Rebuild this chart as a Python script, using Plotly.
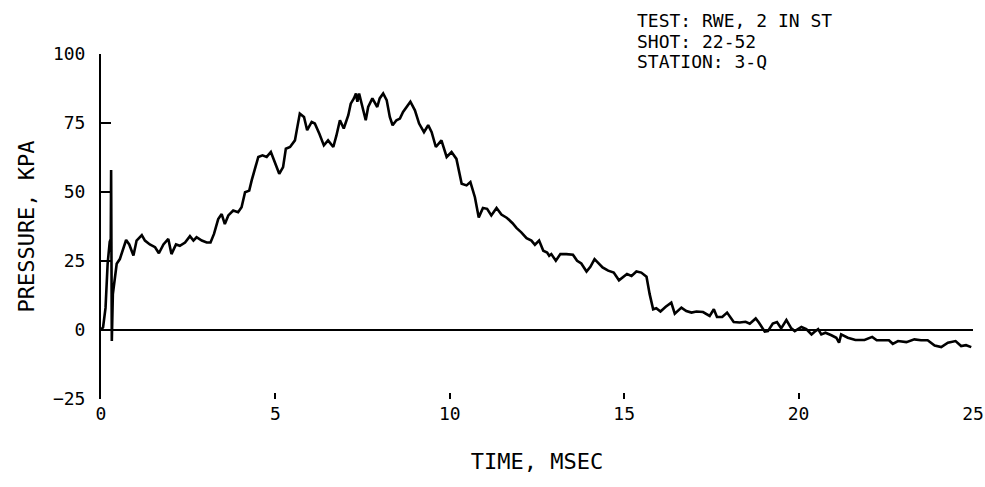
import plotly.graph_objects as go

# pressure record (time in msec, pressure in kPa)
time_ms = [
    0.00, 0.06, 0.13, 0.19, 0.25, 0.28, 0.29, 0.31, 0.34, 0.45, 0.54, 0.64, 0.72,
    0.81, 0.93, 1.02, 1.17, 1.26, 1.40, 1.55, 1.66, 1.79, 1.93, 2.02, 2.15, 2.26,
    2.41, 2.55, 2.65, 2.74, 2.89, 3.03, 3.14, 3.24, 3.36, 3.46, 3.55, 3.65, 3.79,
    3.93, 4.03, 4.13, 4.25, 4.32, 4.41, 4.51, 4.63, 4.75, 4.87, 4.99, 5.11, 5.22,
    5.30, 5.42, 5.56, 5.63, 5.70, 5.82, 5.91, 6.04, 6.13, 6.26, 6.39, 6.51, 6.66,
    6.75, 6.85, 6.96, 7.09, 7.16, 7.25, 7.31, 7.35, 7.40, 7.47, 7.59, 7.66, 7.78,
    7.92, 7.99, 8.09, 8.19, 8.28, 8.36, 8.47, 8.57, 8.66, 8.76, 8.87, 9.00, 9.12,
    9.26, 9.38, 9.48, 9.60, 9.76, 9.91, 10.05, 10.19, 10.34, 10.48, 10.59, 10.72,
    10.83, 10.95, 11.07, 11.19, 11.34, 11.48, 11.64, 11.80, 11.91, 12.05, 12.20,
    12.34, 12.44, 12.56, 12.68, 12.79, 12.85, 12.91, 13.04, 13.17, 13.34, 13.53,
    13.65, 13.77, 13.92, 14.03, 14.15, 14.25, 14.38, 14.54, 14.70, 14.85, 14.97,
    15.08, 15.21, 15.35, 15.49, 15.64, 15.73, 15.83, 15.92, 16.04, 16.19, 16.35,
    16.45, 16.64, 16.78, 16.93, 17.07, 17.26, 17.45, 17.57, 17.66, 17.81, 17.95,
    18.14, 18.31, 18.48, 18.60, 18.77, 18.86, 19.03, 19.12, 19.26, 19.38, 19.50,
    19.65, 19.79, 19.89, 20.08, 20.22, 20.37, 20.46, 20.56, 20.65, 20.77, 20.94,
    21.08, 21.16, 21.22, 21.41, 21.63, 21.89, 22.11, 22.24, 22.41, 22.59, 22.70,
    22.85, 23.09, 23.32, 23.51, 23.70, 23.90, 24.09, 24.28, 24.50, 24.66, 24.80,
    24.95,
]
pressure_kpa = [
    0.0, 1.0, 8.0, 24.0, 32.0, 33.0, 58.0, -4.0, 13.0, 24.0, 25.7, 30.0, 32.6,
    31.0, 27.0, 32.4, 34.4, 32.4, 31.0, 30.0, 27.8, 31.0, 33.0, 27.5, 31.0, 30.5,
    31.7, 34.0, 32.4, 33.6, 32.4, 31.7, 31.7, 34.8, 40.2, 42.0, 38.4, 41.5, 43.3,
    42.7, 44.5, 49.9, 50.5, 54.2, 57.8, 62.7, 63.3, 62.7, 64.5, 60.2, 56.6, 59.0,
    65.7, 66.3, 68.7, 73.6, 78.4, 77.2, 72.4, 75.4, 74.8, 71.1, 66.9, 68.7, 66.3,
    70.5, 76.0, 73.0, 77.8, 82.0, 83.9, 85.7, 82.7, 85.7, 82.0, 76.0, 80.8, 83.9,
    80.8, 83.9, 85.7, 83.3, 77.2, 74.2, 76.0, 76.6, 79.0, 80.8, 82.7, 79.6, 74.8,
    71.7, 74.2, 71.7, 66.3, 68.7, 62.7, 64.5, 62.0, 53.0, 52.4, 53.6, 48.1,
    40.8, 44.2, 43.9, 41.5, 44.2, 41.8, 40.6, 38.7, 37.0, 35.4, 33.3,
    32.4, 30.9, 32.4, 28.7, 28.1, 26.9, 27.5, 25.1, 27.5, 27.5, 27.3,
    25.1, 24.1, 21.2, 22.9, 25.7, 24.5, 22.7, 21.5, 20.8, 18.0, 19.3,
    20.3, 19.6, 21.2, 20.8, 19.3, 13.0, 7.5, 7.9, 6.7, 8.4, 9.9,
    5.9, 8.1, 6.9, 6.3, 6.7, 6.5, 5.1, 7.5, 4.7, 4.7, 6.3,
    2.9, 2.7, 3.0, 2.3, 4.2, 2.7, -0.6, -0.4, 2.3, 2.9, 0.6,
    3.6, 0.6, -0.4, 1.1, 0.3, -1.6, -0.6, 0.3, -1.6, -1.0, -1.9,
    -2.8, -4.6, -1.6, -2.8, -3.6, -3.6, -2.5, -3.7, -3.7, -3.7, -5.0,
    -4.0, -4.4, -3.4, -3.7, -3.7, -5.6, -6.2, -4.6, -4.0, -5.8, -5.5,
    -6.2,
]

x_ticks = [0, 5, 10, 15, 20, 25]
y_ticks = [-25, 0, 25, 50, 75, 100]
info_lines = ["TEST: RWE, 2 IN ST", "SHOT: 22-52", "STATION: 3-Q"]
info_y = [1.096, 1.035, 0.977]  # paper coords of the three header lines

FONT = dict(family="DejaVu Sans Mono, Liberation Mono, monospace", size=18, color="black")

fig = go.Figure(
    go.Scatter(
        x=time_ms,
        y=pressure_kpa,
        mode="lines",
        line=dict(color="black", width=2.6),
        hoverinfo="x+y",
    )
)

fig.update_layout(
    width=985,
    height=487,
    margin=dict(l=101, r=12, t=54, b=88),
    paper_bgcolor="white",
    plot_bgcolor="white",
    font=FONT,
    showlegend=False,
    xaxis=dict(
        range=[0, 25],
        tickvals=x_ticks,
        ticks="inside",
        ticklen=6,
        tickwidth=2,
        tickcolor="black",
        showline=False,
        showgrid=False,
        zeroline=False,
        automargin=False,
        ticklabelstandoff=2,
        title=dict(text="TIME, MSEC", standoff=30),
    ),
    yaxis=dict(
        range=[-25, 100],
        tickvals=y_ticks,
        ticks="inside",
        ticklen=10,
        tickwidth=2,
        tickcolor="black",
        showline=True,
        linewidth=2,
        linecolor="black",
        showgrid=False,
        zeroline=True,
        zerolinewidth=2,
        zerolinecolor="black",
        automargin=False,
        ticklabelstandoff=10,
        title=dict(text="PRESSURE, KPA", standoff=12),
    ),
    annotations=[
        dict(
            text=line,
            xref="paper",
            yref="paper",
            x=0.612,
            y=yy,
            xanchor="left",
            yanchor="middle",
            showarrow=False,
            font=FONT,
        )
        for line, yy in zip(info_lines, info_y)
    ],
)

# drop the browser's default page margin so the figure sits at the top-left corner
fig.write_html(
    "out.html",
    config={"displayModeBar": False},
    post_script="document.body.style.margin='0px';",
)
